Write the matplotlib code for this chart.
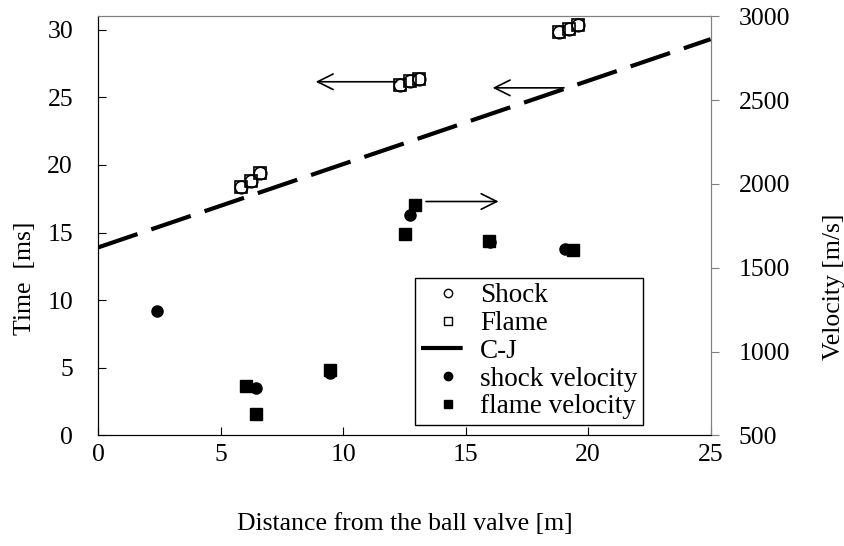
import matplotlib
matplotlib.use("Agg")
import matplotlib.pyplot as plt
from matplotlib.lines import Line2D

plt.rcParams['font.family'] = ['Liberation Serif', 'DejaVu Serif']
plt.rcParams['font.size'] = 18.5

# time of arrival [ms] vs distance [m]
shock_x = [5.82, 6.23, 6.63, 12.32, 12.72, 13.10, 18.81, 19.22, 19.60]
shock_t = [18.35, 18.84, 19.43, 25.93, 26.17, 26.35, 29.80, 30.05, 30.35]
flame_x = [5.82, 6.23, 6.63, 12.32, 12.72, 13.10, 18.81, 19.22, 19.60]
flame_t = [18.35, 18.84, 19.43, 25.93, 26.17, 26.35, 29.80, 30.05, 30.35]

# C-J line
cj_x = [0, 25]
cj_t = [13.9, 29.3]

# velocities [m/s]
shockv_x = [2.41, 6.44, 9.46, 12.72, 16.00, 19.06]
shockv_v = [1244, 784, 875, 1815, 1655, 1611]
flamev_x = [6.04, 6.44, 9.46, 12.52, 12.93, 15.96, 19.39]
flamev_v = [793, 629, 893, 1702, 1875, 1662, 1607]

fig = plt.figure(figsize=(8.45, 5.46), dpi=100)
ax = fig.add_axes([0.116, 0.2024, 0.725, 0.768])
ax2 = ax.twinx()

ax.plot(shock_x, shock_t, 'o', ms=9, mfc='white', mec='black', mew=1.2, zorder=3)
ax.plot(flame_x, flame_t, 's', ms=9, mfc='none', mec='black', mew=1.2, zorder=3)
ax.plot(cj_x, cj_t, color='black', lw=3, dashes=(10, 3.5))

ax2.plot(shockv_x, shockv_v, 'o', ms=8, color='black')
ax2.plot(flamev_x, flamev_v, 's', ms=8, color='black')

arrow = dict(arrowstyle='->', color='black', lw=1.2, mutation_scale=28)
ax.annotate('', xy=(8.77, 26.15), xytext=(12.3, 26.15), arrowprops=arrow)
ax.annotate('', xy=(15.99, 25.7), xytext=(19.13, 25.7), arrowprops=arrow)
ax2.annotate('', xy=(16.46, 1895), xytext=(13.27, 1895), arrowprops=arrow)

ax.set_xlim(0, 25)
ax.set_ylim(0, 31)
ax2.set_ylim(500, 3000)
ax.set_xticks([0, 5, 10, 15, 20, 25])
ax.set_yticks([0, 5, 10, 15, 20, 25, 30])
ax2.set_yticks([500, 1000, 1500, 2000, 2500, 3000])

ax.tick_params(axis='x', direction='in', length=6, pad=6)
ax.tick_params(axis='y', direction='in', length=6, pad=18)
ax2.tick_params(axis='y', direction='out', length=6, color='gray', pad=14)

for s in ['top', 'right']:
    ax2.spines[s].set_color('gray')
    ax.spines[s].set_color('gray')
for s in ['left', 'bottom']:
    ax.spines[s].set_color('black')

ax.set_xlabel('Distance from the ball valve [m]', labelpad=34)
ax.set_ylabel('Time  [ms]')
ax.yaxis.set_label_coords(-0.101, 0.376)
ax2.set_ylabel('Velocity [m/s]')
ax2.yaxis.set_label_coords(1.183, 0.355)

handles = [
    Line2D([], [], ls='none', marker='o', ms=6, mfc='white', mec='black'),
    Line2D([], [], ls='none', marker='s', ms=6, mfc='white', mec='black'),
    Line2D([], [], color='black', lw=3, dashes=(10, 3.5)),
    Line2D([], [], ls='none', marker='o', ms=6, color='black'),
    Line2D([], [], ls='none', marker='s', ms=6, color='black'),
]
labels = ['Shock', 'Flame', 'C-J', 'shock velocity', 'flame velocity']
leg = ax2.legend(handles, labels, loc='lower left', bbox_to_anchor=(0.5, 0.0),
                 fancybox=False, edgecolor='black', framealpha=1, fontsize=19.5,
                 handlelength=2.0, handletextpad=0.2, labelspacing=0.1,
                 borderpad=0.2, borderaxespad=0.4)
leg.get_frame().set_linewidth(1.0)

fig.savefig('out.png', dpi=100)
